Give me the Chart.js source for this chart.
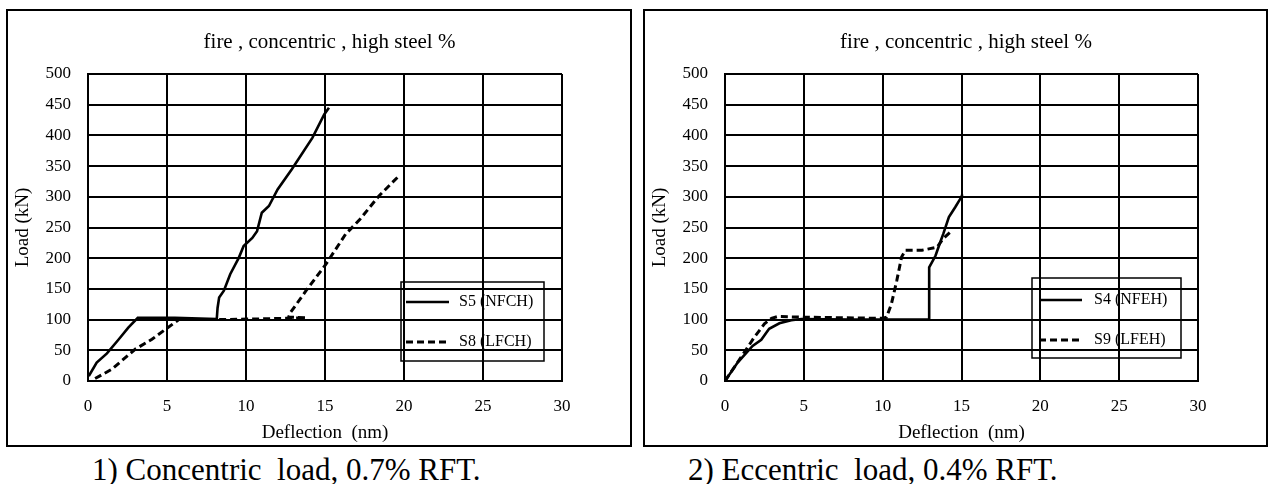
<!DOCTYPE html>
<html>
<head>
<meta charset="utf-8">
<script src="https://cdn.jsdelivr.net/npm/chart.js@4.4.1/dist/chart.umd.min.js"></script>
<style>
  body { margin: 0; width: 1272px; height: 484px; background: #fff; position: relative; overflow: hidden;
         font-family: "Liberation Serif", "Times New Roman", serif; }
  .panel { position: absolute; top: 9px; height: 438px; border: 2px solid #000; box-sizing: border-box; }
  .panel canvas { display: block; }
  .caption { position: absolute; top: 454px; font-size: 31px; line-height: 31px; white-space: pre; color: #000; }
</style>
</head>
<body>
<div class="panel" style="left:6px;width:626px"><canvas id="chartLeft" width="622" height="434"></canvas></div>
<div class="panel" style="left:643px;width:625px"><canvas id="chartRight" width="621" height="434"></canvas></div>
<div class="caption" style="left:92px">1) Concentric  load, 0.7% RFT.</div>
<div class="caption" style="left:688px">2) Eccentric  load, 0.4% RFT.</div>

<script>
// textos
const chartTitle = 'fire , concentric , high steel %';
const xTitle = 'Deflection  (nm)';
const yTitle = 'Load (kN)';

// grafica 1 - carga concentrica
const s5Label = 'S5 (NFCH)';
const s5Deflection = [0.05, 0.55, 1.2, 1.95, 2.55, 3.15, 5.5, 8.15, 8.2, 8.3, 8.6, 9.0, 9.55, 9.85, 10.4, 10.7, 11.0, 11.45, 12.0, 12.9, 14.2, 14.95, 15.25];
const s5Load = [8, 30, 45, 68, 87, 103, 103, 101, 119, 136, 147, 174, 201, 220, 233, 244, 274, 285, 312, 345, 396, 434, 445];

const s8Label = 'S8 (LFCH)';
const s8Deflection = [0.45, 1.5, 3.0, 4.05, 4.9, 5.75, 8.3, 10.5, 12.5, 13.8, 12.7, 12.8, 13.8, 15.05, 16.3, 17.2, 18.4, 19.6];
const s8Load = [4, 19, 52, 68, 84, 100, 100, 101, 102, 103, 104, 111, 147, 190, 239, 263, 301, 332];

// grafica 2 - carga excentrica
const s4Label = 'S4 (NFEH)';
const s4Deflection = [0, 0.8, 1.75, 2.3, 2.8, 3.45, 4.2, 4.85, 8.0, 12.95, 12.95, 13.35, 13.65, 13.85, 14.2, 14.6, 15.0, 15.05];
const s4Load = [0, 30, 57, 67, 85, 94, 99, 101, 100, 100, 185, 204, 226, 240, 267, 283, 300, 304];

const s9Label = 'S9 (LFEH)';
const s9Deflection = [0, 1.0, 1.85, 2.5, 2.95, 3.35, 4.85, 7.5, 9.95, 10.25, 10.55, 10.9, 11.2, 11.45, 12.5, 13.45, 13.85, 14.4];
const s9Load = [0, 38, 71, 93, 102, 105, 104, 103, 102, 104, 125, 164, 202, 213, 213, 218, 232, 245];

const FONT = '"Liberation Serif", "Times New Roman", serif';

function toPoints(xs, ys) {
    return xs.map((x, i) => ({ x: x, y: ys[i] }));
}

// titulo y leyenda dibujados sobre el area del grafico
const panelText = {
    id: 'panelText',
    afterDraw(chart, args, opts) {
        const { ctx, chartArea } = chart;
        ctx.save();
        ctx.fillStyle = '#000';
        ctx.strokeStyle = '#000';
        ctx.font = '21px ' + FONT;
        ctx.textAlign = 'center';
        ctx.textBaseline = 'alphabetic';
        ctx.fillText(opts.title, (chartArea.left + chartArea.right) / 2 + 4.5, opts.titleY);

        const bx = chartArea.left + opts.box[0];
        const by = chartArea.top + opts.box[1];
        ctx.lineWidth = 1.5;
        ctx.strokeRect(bx, by, opts.box[2], opts.box[3]);

        chart.data.datasets.forEach((ds, i) => {
            const y = by + opts.rows[i];
            ctx.beginPath();
            ctx.setLineDash(ds.borderDash || []);
            ctx.lineWidth = ds.borderWidth;
            ctx.moveTo(bx + opts.sample[0], y);
            ctx.lineTo(bx + opts.sample[1], y);
            ctx.stroke();
            ctx.setLineDash([]);
            ctx.font = '16px ' + FONT;
            ctx.textAlign = 'left';
            ctx.textBaseline = 'middle';
            ctx.fillText(ds.label, bx + opts.textX, y);
        });
        ctx.restore();
    }
};

function makeChart(id, solid, dashed, legend) {
    const ctx = document.getElementById(id).getContext('2d');
    return new Chart(ctx, {
        type: 'line',
        data: {
            datasets: [{
                label: solid.label,
                data: toPoints(solid.x, solid.y),
                borderColor: '#000',
                borderWidth: 2.6,
                pointRadius: 0,
                tension: 0,
                fill: false
            }, {
                label: dashed.label,
                data: toPoints(dashed.x, dashed.y),
                borderColor: '#000',
                borderWidth: 3,
                borderDash: [7, 4],
                pointRadius: 0,
                tension: 0,
                fill: false
            }]
        },
        options: {
            responsive: false,
            animation: false,
            layout: { padding: { left: 0, right: legend.right, top: 63, bottom: 0 } },
            plugins: {
                legend: { display: false },
                title: { display: false },
                tooltip: { enabled: false },
                panelText: legend
            },
            scales: {
                x: {
                    type: 'linear',
                    min: 0,
                    max: 30,
                    ticks: { stepSize: 5, color: '#000', font: { family: FONT, size: 17 }, padding: 15, maxRotation: 0 },
                    grid: { color: '#000', lineWidth: 2, drawTicks: false },
                    border: { color: '#000', width: 2 },
                    title: { display: true, text: xTitle, color: '#000', font: { family: FONT, size: 19 }, padding: { top: 0, bottom: 1 } },
                    afterFit: (scale) => { scale.height = 64; }
                },
                y: {
                    min: 0,
                    max: 500,
                    ticks: { stepSize: 50, color: '#000', font: { family: FONT, size: 17 }, padding: 17 },
                    grid: { color: '#000', lineWidth: 2, drawTicks: false },
                    border: { color: '#000', width: 2 },
                    title: { display: true, text: yTitle, color: '#000', font: { family: FONT, size: 19 }, padding: { top: 4, bottom: 0 } },
                    afterFit: (scale) => { scale.width = 80; }
                }
            }
        },
        plugins: [panelText]
    });
}

makeChart('chartLeft',
    { label: s5Label, x: s5Deflection, y: s5Load },
    { label: s8Label, x: s8Deflection, y: s8Load },
    { title: chartTitle, titleY: 37, right: 68, box: [313, 208, 143, 79], rows: [20, 60], sample: [5, 48], textX: 58 });

makeChart('chartRight',
    { label: s4Label, x: s4Deflection, y: s4Load },
    { label: s9Label, x: s9Deflection, y: s9Load },
    { title: chartTitle, titleY: 37, right: 68, box: [307, 204, 149, 80], rows: [22, 62], sample: [7, 50], textX: 62 });
</script>
</body>
</html>
